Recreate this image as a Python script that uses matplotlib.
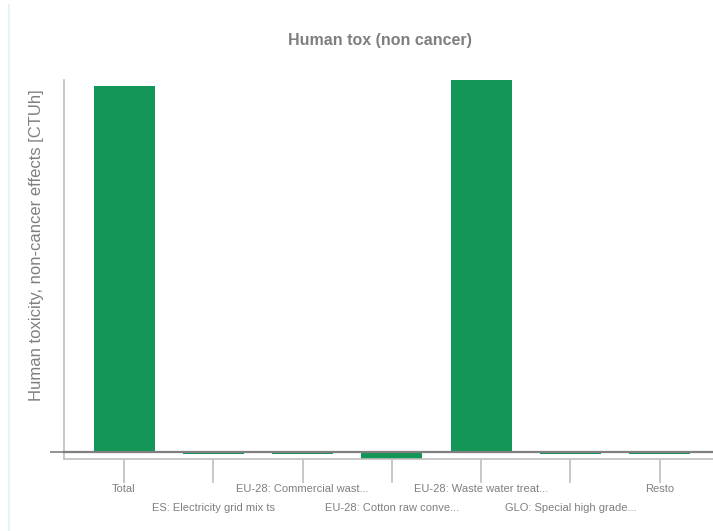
import matplotlib
matplotlib.use("Agg")
import matplotlib.pyplot as plt
from matplotlib import font_manager
import numpy as np

categories = ["Total", "ES: Electricity grid mix ts", "EU-28: Commercial wast...",
              "EU-28: Cotton raw conve...", "EU-28: Waste water treat...",
              "GLO: Special high grade...", "Resto"]
values = [3.66e-6, -0.02e-6, -0.02e-6, -0.078e-6, 3.72e-6, -0.02e-6, -0.02e-6]

names = {f.name for f in font_manager.fontManager.ttflist}
narrow = "Liberation Sans Narrow" if "Liberation Sans Narrow" in names else "Liberation Sans"

W, H = 713, 531
fig = plt.figure(figsize=(W / 100, H / 100), dpi=100)
ax = fig.add_axes([64 / W, (H - 459) / H, (W - 64) / W, (459 - 80) / H])

green = "#139657"
x = np.arange(len(categories))
ax.bar(x, values, width=0.683, color=green, zorder=2)
ax.axhline(0, color="#7f7f7f", lw=1.6, zorder=3, clip_on=False)

ax.set_xlim(-0.672, 6.596)
ax.set_ylim(-0.075e-6, 3.72e-6)

for s in ["top", "right"]:
    ax.spines[s].set_visible(False)
ax.spines["left"].set_color("#bfbfbf")
ax.spines["bottom"].set_color("#bfbfbf")
ax.spines["left"].set_linewidth(1.2)
ax.spines["bottom"].set_linewidth(1.2)
ax.spines["bottom"].set_zorder(4)

ax.set_yticks([0])
ax.set_yticklabels([""])
ax.tick_params(axis="y", length=10, color="#7f7f7f", width=1.2)
ax.set_xticks(x)
ax.set_xticklabels([""] * len(x))
ax.tick_params(axis="x", length=17, color="#bfbfbf", width=1.2, direction="out")

trans = ax.get_xaxis_transform()
for i, lab in enumerate(categories):
    yy = -0.079 if i % 2 == 0 else -0.129
    ax.text(i, yy, lab, transform=trans, ha="center", va="center",
            fontsize=8, color="#7f7f7f", family=narrow)

fig.text(380 / W, 1 - 40 / H, "Human tox (non cancer)", ha="center", va="center",
         fontsize=11.5, fontweight="bold", color="#7f7f7f", family=narrow)
fig.text(37 / W, 1 - 245 / H, "Human toxicity, non-cancer effects [CTUh]",
         rotation=90, ha="center", va="center", fontsize=12, color="#7f7f7f",
         family="Liberation Sans")

fig.add_artist(plt.Line2D([8.5 / W, 8.5 / W], [0, 1 - 5 / H], color="#e3f1f8", lw=1.2))

fig.savefig("out.png", dpi=100)
